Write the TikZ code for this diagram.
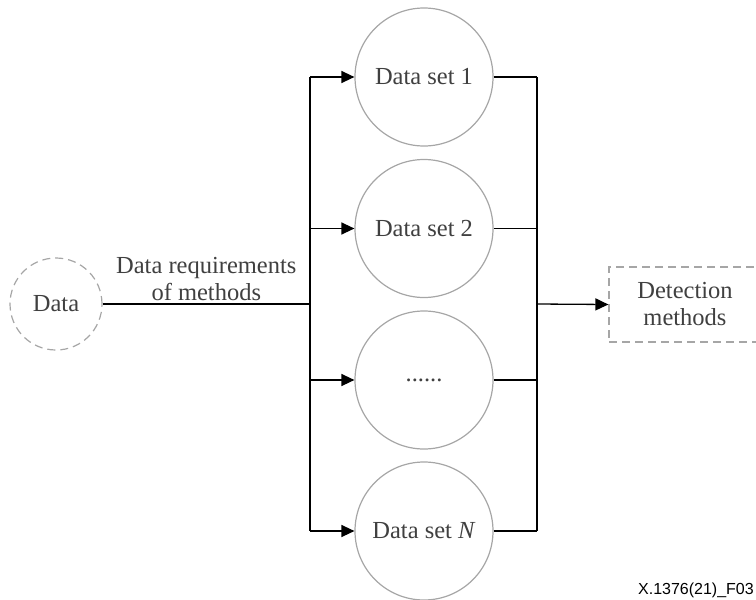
\documentclass[tikz,border=0pt]{standalone}
\usepackage{fontspec}
\setmainfont{Liberation Serif}
\newfontfamily\labelfont{Liberation Sans}
\usetikzlibrary{arrows.meta}

\begin{document}
\begin{tikzpicture}[x=1pt,y=-1pt,
    every node/.style={font=\fontsize{24.5}{27}\selectfont, text=black!75},
    dataset/.style={circle, draw=black!35, line width=1.2pt, minimum size=138pt, inner sep=0pt},
    source/.style={circle, draw=black!35, dash pattern=on 8pt off 5pt, line width=1.2pt, minimum size=92pt, inner sep=0pt},
    target/.style={rectangle, draw=black!35, dash pattern=on 8pt off 5pt, line width=1.2pt, minimum width=152pt, minimum height=75pt, align=center, inner sep=0pt},
    link/.style={line width=1.3pt},
    feed/.style={line width=1.3pt, -{Triangle[length=13pt,width=12pt]}}]

    \useasboundingbox (0,0) rectangle (756,600);

    % Nodes
    \node[source] (data) at (56,304) {Data};
    \node[dataset] (ds1) at (424,77) {Data set 1};
    \node[dataset] (ds2) at (424,228.5) {Data set 2};
    \node[dataset] (ds3) at (424,380) {......};
    \node[dataset] (dsN) at (424,531) {Data set \textit{N}};
    \node[target] (det) at (685,304.5) {Detection\\methods};

    % Buses
    \coordinate (busL) at (310,304);
    \coordinate (busR) at (537,304);

    % Data to left bus
    \draw[link] (data) -- (busL) node[midway, above, align=center, inner sep=3pt] {Data requirements\\of methods};
    \draw[link] (ds1.west -| busL) -- (dsN.west -| busL);

    % Arrows into data sets
    \draw[feed] (ds1.west -| busL) -- (ds1.west);
    \draw[feed] (ds2.west -| busL) -- (ds2.west);
    \draw[feed] (ds3.west -| busL) -- (ds3.west);
    \draw[feed] (dsN.west -| busL) -- (dsN.west);

    % Data sets to right bus
    \draw[link] (ds1.east) -- (ds1.east -| busR);
    \draw[link] (ds2.east) -- (ds2.east -| busR);
    \draw[link] (ds3.east) -- (ds3.east -| busR);
    \draw[link] (dsN.east) -- (dsN.east -| busR);
    \draw[link] (ds1.east -| busR) -- (dsN.east -| busR);

    % Right bus to detection
    \draw[feed] (busR) -- (det.west);

    % Figure tag
    \node[anchor=east, font=\labelfont\fontsize{16}{18}\selectfont, text=black, inner sep=1pt] (tag) at (755,590) {X.1376(21)\_F03};

\end{tikzpicture}
\end{document}
